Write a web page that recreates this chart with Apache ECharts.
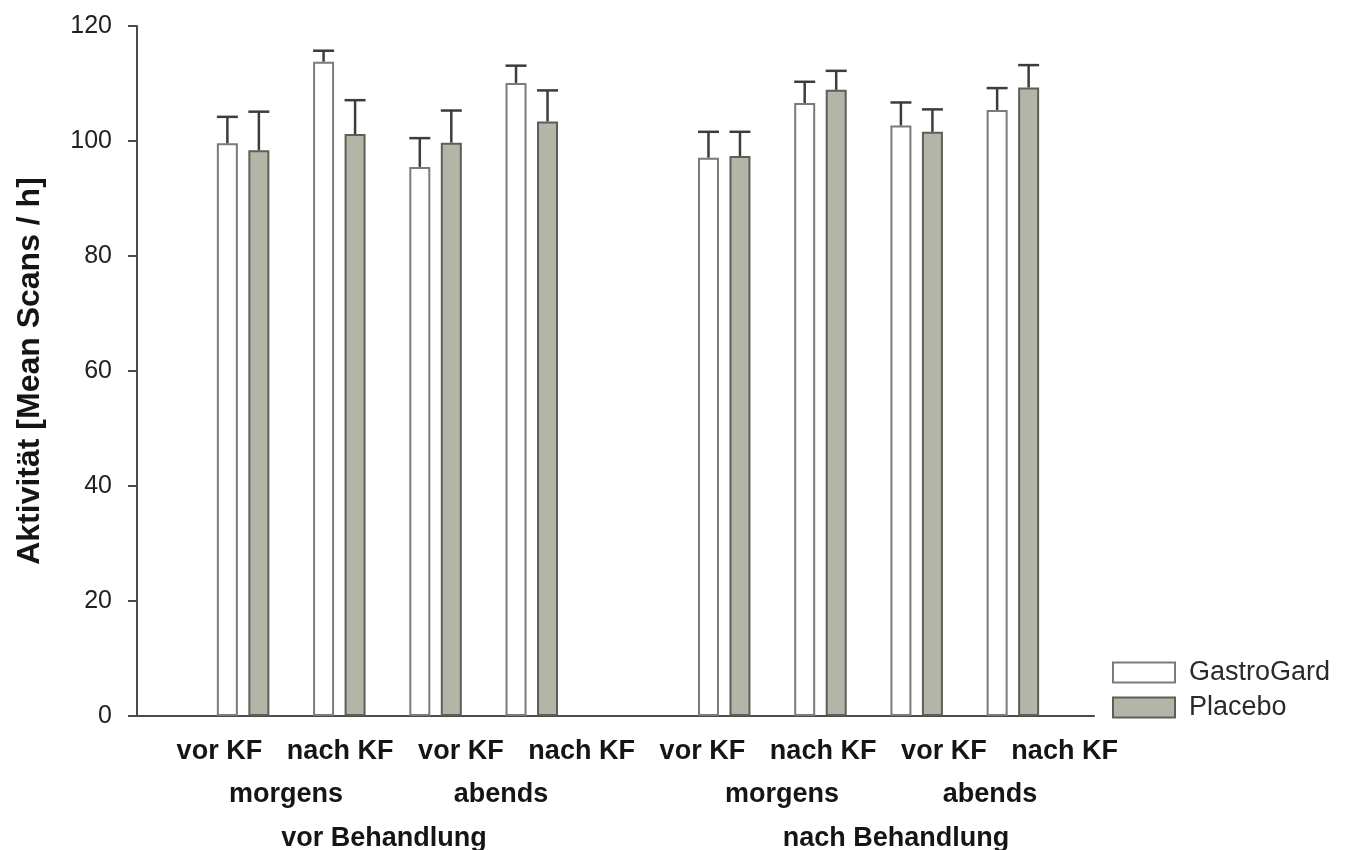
<!DOCTYPE html>
<html>
<head>
<meta charset="utf-8">
<script src="https://cdn.jsdelivr.net/npm/echarts@6/dist/echarts.min.js"></script>
<style>
html,body{margin:0;padding:0;background:#fff;}
#chart{width:1346px;height:850px;}
</style>
</head>
<body>
<div id="chart"></div>
<script>
// ---- data ----
const slotLabels = ['vor KF','nach KF','vor KF','nach KF','','vor KF','nach KF','vor KF','nach KF'];
const kfLabels = ['vor KF','nach KF','vor KF','nach KF','vor KF','nach KF','vor KF','nach KF'];
const timeLabels = ['morgens','abends','morgens','abends'];
const phaseLabels = ['vor Behandlung','nach Behandlung'];
const seriesNames = ['GastroGard','Placebo'];
const gastro = [99.6, 113.8, 95.5, 110.1, null, 97.1, 106.6, 102.7, 105.4];
const placebo = [98.4, 101.2, 99.7, 103.4, null, 97.4, 108.9, 101.6, 109.3];
const gastroErr = [4.6, 1.9, 5.0, 3.0, null, 4.5, 3.7, 4.0, 3.8];
const placeboErr = [6.7, 5.9, 5.6, 5.4, null, 4.2, 3.3, 3.9, 3.9];
const yTicks = [0, 20, 40, 60, 80, 100, 120];

// ---- styles ----
const FONT = '"Liberation Sans", Arial, sans-serif';
const BAR_W = 21, BAR_GAP = 10.5;
const OFFSET = (BAR_W + BAR_GAP) / 2;
const ERR_COLOR = '#3c3c3c';

function errData(vals, errs) {
  const out = [];
  vals.forEach((v, i) => { if (v != null) out.push([i, v, errs[i]]); });
  return out;
}
function errRender(offset) {
  return function (params, api) {
    const x = api.value(0), v = api.value(1), e = api.value(2);
    const base = api.coord([x, v]);
    const top = api.coord([x, v + e]);
    const cx = base[0] + offset;
    const half = BAR_W / 2;
    return {
      type: 'group',
      children: [
        { type: 'line', shape: { x1: cx, y1: base[1], x2: cx, y2: top[1] },
          style: { stroke: ERR_COLOR, lineWidth: 2.5 } },
        { type: 'line', shape: { x1: cx - half, y1: top[1], x2: cx + half, y2: top[1] },
          style: { stroke: ERR_COLOR, lineWidth: 2.5 } }
      ]
    };
  };
}

const chart = echarts.init(document.getElementById('chart'), null, { renderer: 'canvas' });

const textGraphics = [];
const timeX = [286, 501, 782, 990];
timeLabels.forEach((t, i) => textGraphics.push({
  type: 'text', x: timeX[i], y: 795, silent: true,
  style: { text: t, font: 'bold 27px ' + FONT, fill: '#151515', textAlign: 'center', textVerticalAlign: 'middle' }
}));
const phaseX = [384, 896];
phaseLabels.forEach((t, i) => textGraphics.push({
  type: 'text', x: phaseX[i], y: 839, silent: true,
  style: { text: t, font: 'bold 27px ' + FONT, fill: '#151515', textAlign: 'center', textVerticalAlign: 'middle' }
}));

const option = {
  backgroundColor: '#ffffff',
  animation: false,
  textStyle: { fontFamily: FONT },
  graphic: textGraphics,
  legend: {
    data: seriesNames,
    orient: 'vertical',
    left: 1112, top: 659, padding: 0,
    itemWidth: 62, itemHeight: 20, itemGap: 8,
    icon: 'rect',
    textStyle: { fontSize: 27, color: '#2a2a2a', fontFamily: FONT, padding: [0, 0, 0, 9] }
  },
  grid: [
    { left: 137, right: 252, top: 26, bottom: 134 },
    { left: 195, right: 285, top: 26, bottom: 134 },
    { left: 159, right: 221, top: 26, bottom: 134 }
  ],
  xAxis: [
    { gridIndex: 0, type: 'value', min: 0, max: 1,
      axisLine: { show: true, lineStyle: { color: '#4a4a4a', width: 2 } },
      axisTick: { show: false }, axisLabel: { show: false }, splitLine: { show: false } },
    { gridIndex: 1, type: 'category', data: slotLabels,
      axisLine: { show: false }, axisTick: { show: false }, axisLabel: { show: false } },
    { gridIndex: 2, type: 'category', data: kfLabels,
      axisLine: { show: false }, axisTick: { show: false },
      axisLabel: { show: true, margin: 22, fontSize: 27, fontWeight: 'bold', color: '#151515', fontFamily: FONT, interval: 0 } }
  ],
  yAxis: [
    { gridIndex: 0, type: 'value', min: 0, max: 120, interval: 20,
      name: 'Aktivität [Mean Scans / h]', nameLocation: 'middle', nameGap: 91, nameRotate: 90,
      nameTextStyle: { fontSize: 32, fontWeight: 'bold', color: '#151515', fontFamily: FONT },
      axisLine: { show: true, lineStyle: { color: '#4a4a4a', width: 2 } },
      axisTick: { show: true, length: 9, lineStyle: { color: '#4a4a4a', width: 2 } },
      axisLabel: { margin: 25, fontSize: 25, color: '#222', fontFamily: FONT,
        formatter: v => (yTicks.indexOf(v) >= 0 ? String(v) : '') },
      splitLine: { show: false } },
    { gridIndex: 1, type: 'value', min: 0, max: 120, interval: 20, show: false, splitLine: { show: false } },
    { gridIndex: 2, type: 'value', min: 0, max: 120, show: false, splitLine: { show: false } }
  ],
  series: [
    { name: 'GastroGard', type: 'bar', xAxisIndex: 1, yAxisIndex: 1, data: gastro,
      barWidth: BAR_W, barGap: (BAR_GAP / BAR_W * 100) + '%',
      itemStyle: { color: '#ffffff', borderColor: '#7a7a7a', borderWidth: 2 } },
    { name: 'Placebo', type: 'bar', xAxisIndex: 1, yAxisIndex: 1, data: placebo,
      barWidth: BAR_W,
      itemStyle: { color: '#b4b5a7', borderColor: '#5e5e58', borderWidth: 2 } },
    { name: 'GastroGard SE', type: 'custom', xAxisIndex: 1, yAxisIndex: 1, z: 3,
      renderItem: errRender(-OFFSET), data: errData(gastro, gastroErr) },
    { name: 'Placebo SE', type: 'custom', xAxisIndex: 1, yAxisIndex: 1, z: 3,
      renderItem: errRender(OFFSET), data: errData(placebo, placeboErr) }
  ]
};
chart.setOption(option);
</script>
</body>
</html>
